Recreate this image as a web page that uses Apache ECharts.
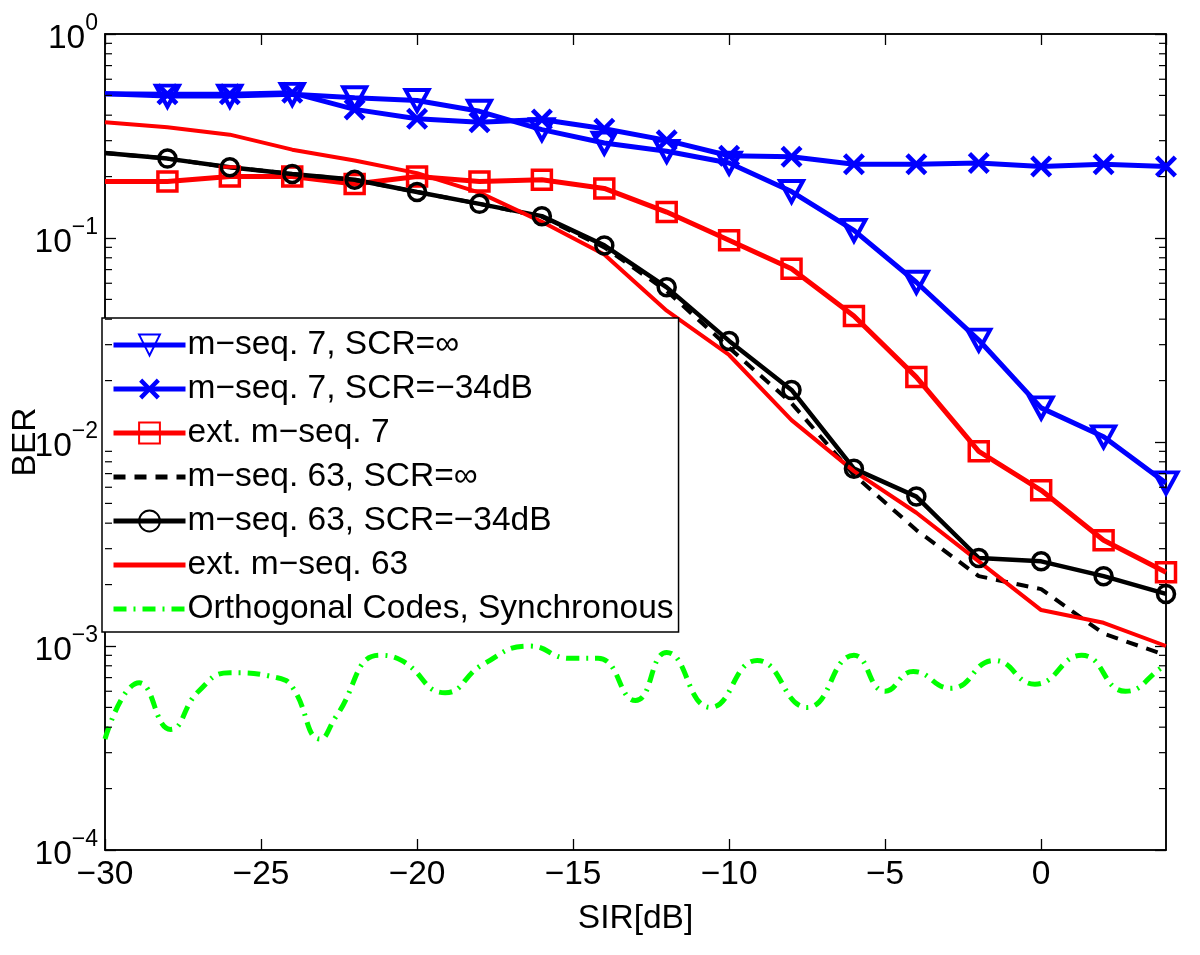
<!DOCTYPE html>
<html><head><meta charset="utf-8">
<script src="https://cdn.jsdelivr.net/npm/echarts@6/dist/echarts.min.js"></script>
<style>html,body{margin:0;padding:0;background:#fff}#c{width:1200px;height:955px}</style>
</head><body><div id="c"></div>
<script>
// ---- data ----
const sir = [-30,-28,-26,-24,-22,-20,-18,-16,-14,-12,-10,-8,-6,-4,-2,0,2,4];
const mseq7Inf   = [0.509,0.496,0.496,0.506,0.487,0.472,0.418,0.340,0.292,0.266,0.233,0.169,0.109,0.0607,0.0316,0.0147,0.0106,0.0063];
const mseq7Scr   = [0.509,0.506,0.506,0.515,0.427,0.384,0.369,0.381,0.343,0.301,0.253,0.250,0.230,0.230,0.233,0.224,0.230,0.224];
const extMseq7   = [0.189,0.189,0.200,0.200,0.184,0.200,0.189,0.193,0.175,0.134,0.0974,0.0706,0.0415,0.0208,0.0090,0.0058,0.0033,0.0023];
const mseq63Inf  = [0.261,0.245,0.222,0.206,0.193,0.168,0.147,0.127,0.090,0.055,0.029,0.0155,0.0069,0.0037,0.0022,0.0019,0.00115,0.0009];
const mseq63Scr  = [0.261,0.245,0.222,0.206,0.193,0.168,0.147,0.128,0.092,0.0573,0.0313,0.018,0.0074,0.0054,0.0027,0.0026,0.0022,0.0018];
const extMseq63  = [0.369,0.349,0.321,0.271,0.240,0.208,0.167,0.120,0.083,0.044,0.0267,0.0128,0.0072,0.0045,0.0026,0.0015,0.0013,0.0010];
const orthX = [-30,-28.9,-27.9,-27.0,-26.0,-24.5,-24.0,-23.1,-22.6,-21.2,-20.5,-19.1,-17.9,-16.4,-15.1,-14.2,-13.0,-12.0,-10.6,-9.1,-7.5,-6.0,-5.0,-4.1,-2.9,-1.5,-0.2,1.3,2.7,3.9,4];
const orthY = [3.5e-4,6.6e-4,3.9e-4,6.0e-4,7.4e-4,7.0e-4,6.3e-4,3.5e-4,4.5e-4,9.0e-4,8.5e-4,5.9e-4,8.1e-4,1.0e-3,8.7e-4,8.7e-4,5.4e-4,9.3e-4,5.0e-4,8.5e-4,5.0e-4,9.0e-4,6.0e-4,7.5e-4,6.2e-4,8.5e-4,6.5e-4,9.0e-4,6.0e-4,7.9e-4,8.0e-4];
const names = ['m\u2212seq. 7, SCR=\u221e','m\u2212seq. 7, SCR=\u221234dB','ext. m\u2212seq. 7','m\u2212seq. 63, SCR=\u221e','m\u2212seq. 63, SCR=\u221234dB','ext. m\u2212seq. 63','Orthogonal Codes, Synchronous'];
const xMin = -30, xMax = 4, xStep = 5;
const yMin = 1e-4, yMax = 1;
const xName = 'SIR[dB]', yName = 'BER';

// minor log ticks (2..9 x 10^k)
const minorTicks = [];
for (let e = -4; e < 0; e++) for (let m = 2; m <= 9; m++) minorTicks.push([xMin, m * Math.pow(10, e)]);

function pts(ys, firstNoSymbol) {
  return sir.map((x, i) => (i === 0 && firstNoSymbol) ? {value: [x, ys[i]], symbol: 'none'} : [x, ys[i]]);
}
const FONT = '"Liberation Sans", Arial, Helvetica, sans-serif';
const FS = 33.5;
const xPath = 'path://M0,1.5 L1.5,0 L5,3.5 L8.5,0 L10,1.5 L6.5,5 L10,8.5 L8.5,10 L5,6.5 L1.5,10 L0,8.5 L3.5,5 Z';
const NOFILL = 'rgba(255,255,255,0)';

const chart = echarts.init(document.getElementById('c'), null, {renderer: 'canvas'});
const axisCommonY = {
  type: 'log', logBase: 10, min: yMin, max: yMax,
  axisLine: {show: true, onZero: false, lineStyle: {color: '#000', width: 1.5}},
  axisTick: {show: true, inside: true, length: 11, lineStyle: {color: '#000', width: 1.3}},
  splitLine: {show: false}
};
const axisCommonX = {
  type: 'value', min: xMin, max: xMax, interval: xStep,
  axisLine: {show: true, onZero: false, lineStyle: {color: '#000', width: 1.5}},
  axisTick: {show: true, inside: true, length: 11, lineStyle: {color: '#000', width: 1.3}},
  splitLine: {show: false}
};
const option = {
  animation: false,
  backgroundColor: '#fff',
  textStyle: {fontFamily: FONT},
  grid: {left: 105, right: 34, top: 34, bottom: 105, containLabel: false, outerBoundsMode: 'none',
    show: true, borderColor: '#000', borderWidth: 1.5, backgroundColor: 'transparent'},
  xAxis: [
    Object.assign({}, axisCommonX, {position: 'bottom', name: xName, nameLocation: 'middle', nameGap: 52, nameMoveOverlap: false,
      nameTextStyle: {fontSize: FS, color: '#000', fontFamily: FONT},
      axisLabel: {show: true, margin: 8, fontSize: FS, color: '#000', fontFamily: FONT, showMaxLabel: false,
        formatter: v => (v > 0.5 ? '' : (v < 0 ? '\u2212' + Math.abs(v) : String(v)))}}),
    Object.assign({}, axisCommonX, {position: 'top', axisLabel: {show: false}})
  ],
  yAxis: [
    Object.assign({}, axisCommonY, {position: 'left', name: yName, nameLocation: 'middle', nameGap: 62, nameRotate: 90,
      nameMoveOverlap: false,
      nameTextStyle: {fontSize: FS, color: '#000', fontFamily: FONT},
      axisLabel: {show: true, margin: 7, color: '#000', fontFamily: FONT,
        formatter: v => {
          const e = Math.round(Math.log10(v));
          return '{b|10}{s|' + (e < 0 ? '\u2212' + Math.abs(e) : e) + '}';
        },
        rich: {
          b: {fontSize: FS, fontFamily: FONT, color: '#000', lineHeight: 44, verticalAlign: 'bottom'},
          s: {fontSize: 23, fontFamily: FONT, color: '#000', lineHeight: 23, verticalAlign: 'top'}
        }}}),
    Object.assign({}, axisCommonY, {position: 'right', axisLabel: {show: false}})
  ],
  legend: {
    data: names,
    orient: 'vertical', left: 102, top: 318,
    backgroundColor: '#fff', borderColor: '#000', borderWidth: 1.5, borderRadius: 0,
    padding: [10, 5, 6, 9], itemGap: 10, itemWidth: 72, itemHeight: 26,
    lineStyle: {width: 5},
    textStyle: {fontSize: FS, color: '#000', fontFamily: FONT, padding: [0, 0, 0, -3]},
    selectedMode: false
  },
  series: [
    {name: names[0], type: 'line', data: pts(mseq7Inf, true), symbol: 'triangle', symbolRotate: 180, symbolSize: [23, 21],
      lineStyle: {color: '#0000ff', width: 5}, itemStyle: {color: NOFILL, borderColor: '#0000ff', borderWidth: 4}, z: 3},
    {name: names[1], type: 'line', data: pts(mseq7Scr, true), symbol: xPath, symbolSize: 22, symbolKeepAspect: true,
      lineStyle: {color: '#0000ff', width: 5}, itemStyle: {color: '#0000ff', borderWidth: 0}, z: 3},
    {name: names[2], type: 'line', data: pts(extMseq7, true), symbol: 'rect', symbolSize: 19,
      lineStyle: {color: '#ff0000', width: 5}, itemStyle: {color: NOFILL, borderColor: '#ff0000', borderWidth: 3.5}, z: 3},
    {name: names[3], type: 'line', data: pts(mseq63Inf, false), symbol: 'none', showSymbol: false,
      lineStyle: {color: '#000', width: 4, type: [12, 9]}, itemStyle: {color: NOFILL, borderWidth: 0}, z: 3},
    {name: names[4], type: 'line', data: pts(mseq63Scr, true), symbol: 'circle', symbolSize: 17,
      lineStyle: {color: '#000', width: 4.5}, itemStyle: {color: NOFILL, borderColor: '#000', borderWidth: 3.5}, z: 3},
    {name: names[5], type: 'line', data: pts(extMseq63, false), symbol: 'none', showSymbol: false,
      lineStyle: {color: '#ff0000', width: 4}, itemStyle: {color: NOFILL, borderWidth: 0}, z: 3},
    {name: names[6], type: 'line', data: orthX.map((x, i) => [x, orthY[i]]), symbol: 'none', showSymbol: false, smooth: 0.5,
      lineStyle: {color: '#00ff00', width: 5, type: [13, 7, 2, 7]}, itemStyle: {color: NOFILL, borderWidth: 0}, z: 3},
    {type: 'custom', silent: true, data: minorTicks, clip: false, z: 4,
      renderItem: (params, api) => {
        const v = api.value(1);
        const pL = api.coord([xMin, v]);
        const pR = api.coord([xMax, v]);
        return {type: 'group', children: [
          {type: 'line', shape: {x1: pL[0], y1: pL[1], x2: pL[0] + 7, y2: pL[1]}, style: {stroke: '#000', lineWidth: 1.2}},
          {type: 'line', shape: {x1: pR[0] - 7, y1: pR[1], x2: pR[0], y2: pR[1]}, style: {stroke: '#000', lineWidth: 1.2}}
        ]};
      }}
  ]
};
chart.setOption(option);
</script></body></html>
